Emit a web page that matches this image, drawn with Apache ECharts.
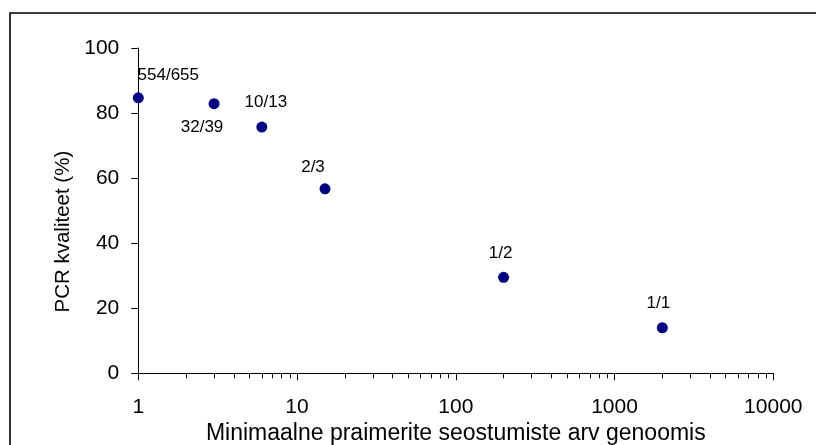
<!DOCTYPE html>
<html>
<head>
<meta charset="utf-8">
<script src="https://cdn.jsdelivr.net/npm/echarts@6/dist/echarts.min.js"></script>
<style>
html,body{margin:0;padding:0;background:#fff;}
#chart{width:816px;height:445px;}
</style>
</head>
<body>
<div id="chart"></div>
<script>
// Data
const primerCounts = [1, 3, 6, 15, 200, 2000];
const pcrQuality = [84.7, 82.9, 75.7, 56.7, 29.5, 14.0];
const pointLabels = ['554/655', '32/39', '10/13', '2/3', '1/2', '1/1'];
const xMajorTicks = [1, 10, 100, 1000, 10000];
const xMinorTicks = [2, 3, 4, 5, 6, 7, 8, 9, 20, 30, 40, 50, 60, 70, 80, 90,
  200, 300, 400, 500, 600, 700, 800, 900, 2000, 3000, 4000, 5000, 6000, 7000, 8000, 9000];
const yTicks = [0, 20, 40, 60, 80, 100];
const xTitle = 'Minimaalne praimerite seostumiste arv genoomis';
const yTitle = 'PCR kvaliteet (%)';

// Label placement (style, not data)
const labelOffsets = [[30, -22], [-12, 24], [4, -25], [-12, -22], [-3, -24], [-4, -24]];

const FONT = 'Liberation Sans, Arial, sans-serif';
const chart = echarts.init(document.getElementById('chart'), null, {renderer: 'canvas'});

const data = primerCounts.map((x, i) => ({
  value: [x, pcrQuality[i]],
  label: {
    show: true,
    formatter: pointLabels[i],
    position: 'inside',
    offset: labelOffsets[i],
    fontSize: 17,
    color: '#000',
    opacity: 1,
    fontFamily: FONT
  }
}));

chart.setOption({
  animation: false,
  backgroundColor: '#fff',
  grid: {left: 138.3, right: 42.7, top: 48, bottom: 71.7, containLabel: false, outerBoundsMode: 'none'},
  xAxis: [{
    type: 'log',
    logBase: 10,
    min: xMajorTicks[0],
    max: xMajorTicks[xMajorTicks.length - 1],
    position: 'bottom',
    name: xTitle,
    nameLocation: 'middle',
    nameGap: 48,
    nameTextStyle: {fontSize: 23, color: '#000', fontFamily: FONT},
    axisLine: {show: true, onZero: false, lineStyle: {color: '#000', width: 1}},
    axisTick: {show: true, length: 7, inside: false, customValues: xMajorTicks, lineStyle: {color: '#000'}},
    axisLabel: {show: true, customValues: xMajorTicks, fontSize: 21, color: '#000', fontFamily: FONT, margin: 23,
      formatter: v => String(Math.round(v))},
    splitLine: {show: false},
    minorTick: {show: false}
  }, {
    type: 'log',
    logBase: 10,
    min: xMajorTicks[0],
    max: xMajorTicks[xMajorTicks.length - 1],
    position: 'bottom',
    axisLine: {show: false},
    axisTick: {show: true, length: 5, inside: false, customValues: xMinorTicks, lineStyle: {color: '#000'}},
    axisLabel: {show: false},
    splitLine: {show: false}
  }],
  yAxis: {
    type: 'value',
    min: yTicks[0],
    max: yTicks[yTicks.length - 1],
    interval: 20,
    name: yTitle,
    nameLocation: 'middle',
    nameGap: 53,
    nameRotate: 90,
    nameTextStyle: {fontSize: 20.5, color: '#000', fontFamily: FONT, padding: [0, 42, 0, 0]},
    axisLine: {show: true, onZero: false, lineStyle: {color: '#000', width: 1}},
    axisTick: {show: true, length: 7, inside: false, lineStyle: {color: '#000'}},
    axisLabel: {fontSize: 21, color: '#000', fontFamily: FONT, margin: 19},
    splitLine: {show: false}
  },
  graphic: [{
    type: 'rect',
    shape: {x: 10, y: 13, width: 900, height: 500},
    style: {fill: null, stroke: '#000', lineWidth: 1.6},
    silent: true,
    z: 100
  }],
  series: [{
    type: 'scatter',
    xAxisIndex: 0,
    yAxisIndex: 0,
    symbol: 'circle',
    symbolSize: 11,
    itemStyle: {color: '#000080', opacity: 1},
    emphasis: {disabled: true},
    data: data
  }]
});
</script>
</body>
</html>
